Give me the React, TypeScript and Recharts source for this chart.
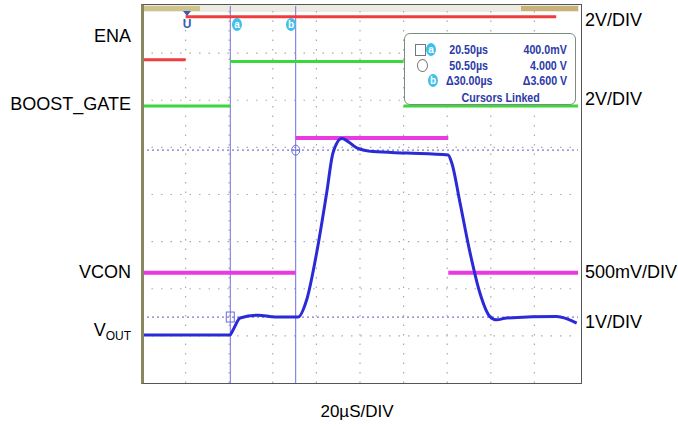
import React from 'react';
import { ComposedChart, Line, XAxis, YAxis, ReferenceLine, ReferenceDot } from 'recharts';

// time base: 20us/div, 10 divisions, trigger at 0
const timeTicks = [-20, 0, 20, 40, 60, 80, 100, 120, 140, 160, 180];
// vertical: 8 divisions
const divTicks = [0, 1, 2, 3, 4, 5, 6, 7, 8];

// digital traces: null breaks the trace on the fast edges (scope draws no edge)
const enaTime = [-20, 0, 0, 0, 170];
const enaLevel = [6.86, 6.86, null, 7.77, 7.77];

const gateTime = [-20, 20.5, 20.5, 20.5, 100, 100, 100, 180];
const gateLevel = [5.88, 5.88, null, 6.82, 6.82, null, 5.88, 5.88];

const vconTime = [-20, 50.5, 50.5, 50.5, 120.5, 120.5, 120.5, 180];
const vconLevel = [2.34, 2.34, null, 5.2, 5.2, null, 2.34, 2.34];

const voutTime = [-20, 20.4, 21.7, 25, 33.2, 41, 51.6, 55.5, 60.1, 64.7, 67.6, 71.6, 78.5, 86, 101.4, 120.4, 122.1, 125.9, 130.5, 135, 139.6, 142.7, 147.3, 170.2, 179.4];
const voutLevel = [1.02, 1.02, 1.12, 1.38, 1.44, 1.4, 1.4, 1.76, 2.76, 4.03, 4.88, 5.19, 4.99, 4.91, 4.88, 4.84, 4.67, 3.82, 2.76, 1.91, 1.41, 1.34, 1.38, 1.41, 1.27];

// cursors
const cursorA = { t: 20.5, v: 1.4 };
const cursorB = { t: 50.5, v: 4.94 };

const leftLabels = [
    { text: 'ENA', y: 36 },
    { text: 'BOOST_GATE', y: 104 },
    { text: 'VCON', y: 272 },
];
const rightLabels = [
    { text: '2V/DIV', y: 20 },
    { text: '2V/DIV', y: 99 },
    { text: '500mV/DIV', y: 272 },
    { text: '1V/DIV', y: 322 },
];

const readout = [
    { time: '20.50µs', volt: '400.0mV' },
    { time: '50.50µs', volt: '4.000 V' },
    { time: 'Δ30.00µs', volt: 'Δ3.600 V' },
];

const toPoints = (ts: number[], vs: (number | null)[]) => ts.map((t, i) => ({ t, v: vs[i] }));

const labelFont = "'Liberation Sans', Arial, sans-serif";
const scopeFont = "'Liberation Sans', Arial, sans-serif";
const narrow = { display: 'inline-block', transform: 'scaleX(0.82)' } as const;

const CursorTag = ({ letter, x }: { letter: string; x: number }) => (
    <div style={{
        position: 'absolute', left: x - 5, top: 18, width: 10, height: 13, borderRadius: '50%',
        background: '#3ec0ea', color: '#fff', fontFamily: scopeFont, fontSize: 10, fontWeight: 700,
        lineHeight: '13px', textAlign: 'center'
    }}>{letter}</div>
);

const SquareMarker = (props: any) => {
    const { cx, cy } = props;
    return <rect x={cx - 4} y={cy - 5} width={8} height={10} fill="none" stroke="#6b6bd8" strokeWidth={1} />;
};

const CircleMarker = (props: any) => {
    const { cx, cy } = props;
    return (
        <g>
            <ellipse cx={cx} cy={cy} rx={4} ry={5} fill="none" stroke="#6b6bd8" strokeWidth={1} />
            <line x1={cx - 4} x2={cx + 4} y1={cy} y2={cy} stroke="#6b6bd8" />
        </g>
    );
};

export default function App() {
    const innerX = timeTicks.slice(1, -1);
    const innerY = divTicks.slice(1, -1);
    return (
        <div style={{ position: 'absolute', left: 0, top: 0, width: 678, height: 426, background: '#fff', overflow: 'hidden' }}>
            {/* scope header strip */}
            <div style={{ position: 'absolute', left: 141, top: 4, width: 438, height: 7, background: '#ecebe2', borderTop: '1.5px solid #555' }} />
            <div style={{ position: 'absolute', left: 142, top: 5.5, width: 58, height: 5, background: '#cfc38c' }} />
            <div style={{ position: 'absolute', left: 521, top: 5.5, width: 57, height: 5, background: '#c9b277' }} />

            <div style={{ position: 'absolute', left: 0, top: 0 }}>
                <ComposedChart width={678} height={426} margin={{ top: 6, right: 100, left: 142, bottom: 43 }}>
                    <XAxis dataKey="t" type="number" domain={[-20, 180]} ticks={timeTicks} hide />
                    <YAxis type="number" domain={[0, 8]} ticks={divTicks} hide />
                    {innerX.map((t) => (
                        <ReferenceLine key={'gx' + t} x={t} stroke="#aaaaaa" strokeDasharray="1.5 8" strokeWidth={1.2} />
                    ))}
                    {innerY.map((d) => (
                        <ReferenceLine key={'gy' + d} y={d} stroke="#aaaaaa" strokeDasharray="1.5 8" strokeWidth={1.2} />
                    ))}
                    <ReferenceLine y={cursorB.v} stroke="#7a7ad0" strokeDasharray="2 3" strokeWidth={1.2} />
                    <ReferenceLine y={cursorA.v} stroke="#7a7ad0" strokeDasharray="2 3" strokeWidth={1.2} />
                    <ReferenceLine x={cursorA.t} stroke="#6f6fe0" strokeWidth={1} />
                    <ReferenceLine x={cursorB.t} stroke="#6f6fe0" strokeWidth={1} />
                    <Line data={toPoints(enaTime, enaLevel)} dataKey="v" type="linear" stroke="#f03c3c" strokeWidth={3} dot={false} isAnimationActive={false} />
                    <Line data={toPoints(gateTime, gateLevel)} dataKey="v" type="linear" stroke="#3ad83a" strokeWidth={3} dot={false} isAnimationActive={false} />
                    <Line data={toPoints(vconTime, vconLevel)} dataKey="v" type="linear" stroke="#e83ae0" strokeWidth={4} dot={false} isAnimationActive={false} />
                    <Line data={toPoints(voutTime, voutLevel)} dataKey="v" type="monotone" stroke="#2a2ad6" strokeWidth={3} dot={false} isAnimationActive={false} />
                    <ReferenceDot x={cursorA.t} y={cursorA.v} shape={<SquareMarker />} />
                    <ReferenceDot x={cursorB.t} y={cursorB.v} shape={<CircleMarker />} />
                </ComposedChart>
            </div>

            {/* scope frame */}
            <div style={{ position: 'absolute', left: 140.5, top: 4, width: 437, height: 378, border: '1.5px solid #555', borderLeft: '3px solid #8a8660', pointerEvents: 'none' }} />

            {/* trigger and cursor tags */}
            <div style={{ position: 'absolute', left: 183, top: 11, width: 0, height: 0, borderLeft: '4px solid transparent', borderRight: '4px solid transparent', borderTop: '5px solid #3b5bb5' }} />
            <div style={{ position: 'absolute', left: 182, top: 17, width: 10, height: 14, color: '#3b5bb5', fontFamily: scopeFont, fontWeight: 700, fontSize: 12, textAlign: 'center', lineHeight: '14px' }}>U</div>
            <CursorTag letter="a" x={237} />
            <CursorTag letter="b" x={291} />

            {/* cursor readout box */}
            <div style={{
                position: 'absolute', left: 404, top: 33, width: 170, height: 70, background: '#fff',
                border: '1.5px solid #7d8d7d', borderRadius: 6, fontFamily: scopeFont, fontWeight: 700,
                fontSize: 13, color: '#2d3aa8'
            }}>
                {readout.map((r, i) => (
                    <div key={i} style={{ position: 'absolute', left: 0, top: 8 + i * 15.5, width: 170, height: 15, lineHeight: '15px', whiteSpace: 'nowrap' }}>
                        <span style={{ position: 'absolute', left: 34, width: 60, textAlign: 'center' }}><span style={narrow}>{r.time}</span></span>
                        <span style={{ position: 'absolute', right: 8, width: 60, textAlign: 'right' }}><span style={{ ...narrow, transformOrigin: 'right center' }}>{r.volt}</span></span>
                    </div>
                ))}
                <div style={{ position: 'absolute', left: 10, top: 10, width: 9, height: 10, border: '1px solid #777' }} />
                <div style={{ position: 'absolute', left: 21, top: 9, width: 10, height: 13, borderRadius: '50%', background: '#3ec0ea', color: '#fff', fontSize: 10, lineHeight: '13px', textAlign: 'center' }}>a</div>
                <div style={{ position: 'absolute', left: 12, top: 25, width: 9, height: 11, borderRadius: '50%', border: '1px solid #777' }} />
                <div style={{ position: 'absolute', left: 23, top: 40, width: 10, height: 13, borderRadius: '50%', background: '#3ec0ea', color: '#fff', fontSize: 10, lineHeight: '13px', textAlign: 'center' }}>b</div>
                <div style={{ position: 'absolute', left: 48, top: 56, width: 92, textAlign: 'center', lineHeight: '15px', whiteSpace: 'nowrap' }}><span style={narrow}>Cursors Linked</span></div>
            </div>

            {/* channel labels */}
            {leftLabels.map((l) => (
                <div key={l.text} style={{ position: 'absolute', right: 678 - 131, top: l.y - 11, fontFamily: labelFont, fontSize: 18, lineHeight: '22px', color: '#000', whiteSpace: 'nowrap' }}>{l.text}</div>
            ))}
            <div style={{ position: 'absolute', right: 678 - 131, top: 330 - 11, fontFamily: labelFont, fontSize: 18, lineHeight: '22px', color: '#000', whiteSpace: 'nowrap' }}>
                V<span style={{ fontSize: 12, position: 'relative', top: 4 }}>OUT</span>
            </div>
            {rightLabels.map((l, i) => (
                <div key={i} style={{ position: 'absolute', left: 585, top: l.y - 11, fontFamily: labelFont, fontSize: 18, lineHeight: '22px', color: '#000', whiteSpace: 'nowrap' }}>{l.text}</div>
            ))}
            <div style={{ position: 'absolute', left: 257, width: 200, top: 401, textAlign: 'center', fontFamily: labelFont, fontSize: 17, lineHeight: '22px', color: '#000' }}>20µS/DIV</div>
        </div>
    );
}
